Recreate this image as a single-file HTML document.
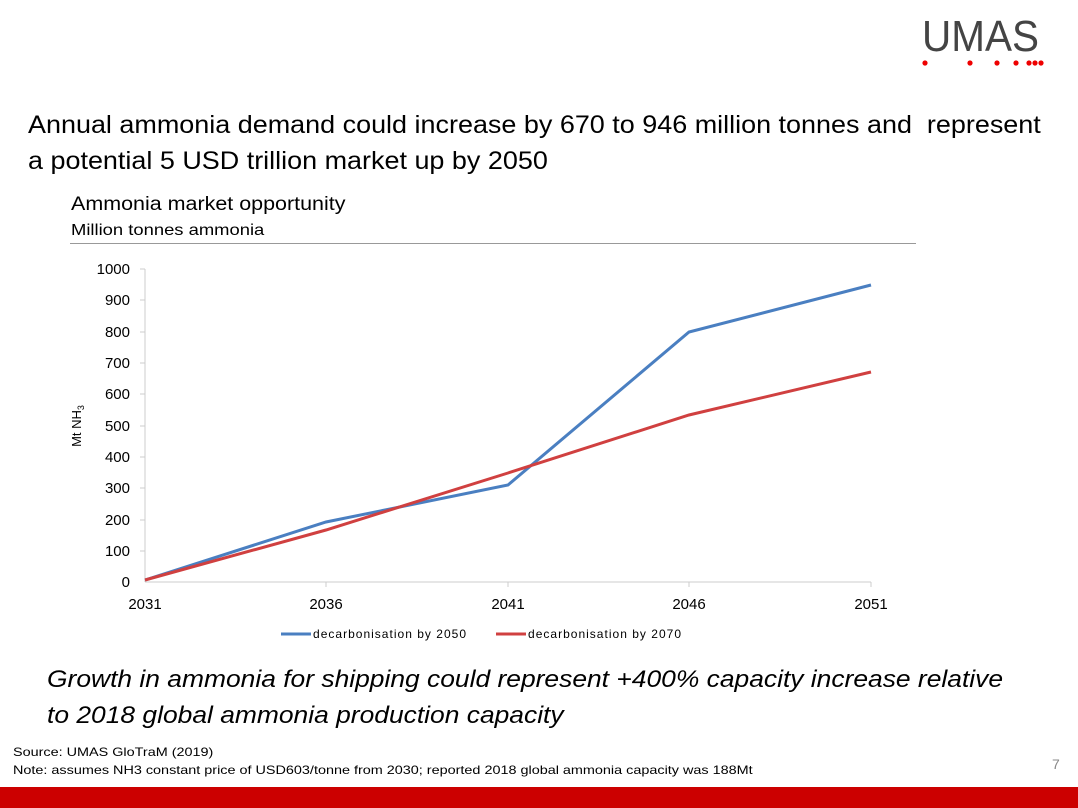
<!DOCTYPE html>
<html><head><style>
body{margin:0;width:1078px;height:808px;background:#fff;position:relative;overflow:hidden;font-family:"Liberation Sans",sans-serif;color:#000}
.a{position:absolute;white-space:nowrap;transform-origin:left top}
</style></head><body>
<div class="a" style="left:922px;top:12px;font-size:44px;color:#444;transform:scaleX(0.92)">UMAS</div>
<svg class="a" style="left:918px;top:58px" width="130" height="10">
<circle cx="7" cy="5" r="2.6" fill="#e00"/><circle cx="52" cy="5" r="2.6" fill="#e00"/><circle cx="79" cy="5" r="2.6" fill="#e00"/><circle cx="98" cy="5" r="2.6" fill="#e00"/><circle cx="111" cy="5" r="2.6" fill="#e00"/><circle cx="117" cy="5" r="2.6" fill="#e00"/><circle cx="123" cy="5" r="2.6" fill="#e00"/>
</svg>
<div class="a" style="left:28px;top:107px;font-size:25px;line-height:36px;transform:scaleX(1.078)">Annual ammonia demand could increase by 670 to 946 million tonnes and &nbsp;represent<br>a potential 5 USD trillion market up by 2050</div>
<div class="a" style="left:71px;top:194px;font-size:19px;transform:scaleX(1.13)">Ammonia market opportunity</div>
<div class="a" style="left:71px;top:222px;font-size:16px;transform:scaleX(1.15)">Million tonnes ammonia</div>
<div class="a" style="left:70px;top:243px;width:846px;height:1px;background:#999"></div>
<svg class="a" style="left:0;top:0" width="1078" height="808" font-family="Liberation Sans, sans-serif" font-size="15">
<g stroke="#ccc" stroke-width="1">
<line x1="145" y1="269" x2="145" y2="582"/><line x1="145" y1="582" x2="871" y2="582"/>
<line x1="140" y1="269" x2="145" y2="269"/><line x1="140" y1="300" x2="145" y2="300"/><line x1="140" y1="332" x2="145" y2="332"/><line x1="140" y1="363" x2="145" y2="363"/><line x1="140" y1="394" x2="145" y2="394"/><line x1="140" y1="426" x2="145" y2="426"/><line x1="140" y1="457" x2="145" y2="457"/><line x1="140" y1="488" x2="145" y2="488"/><line x1="140" y1="520" x2="145" y2="520"/><line x1="140" y1="551" x2="145" y2="551"/>
<line x1="326" y1="582" x2="326" y2="587"/><line x1="508" y1="582" x2="508" y2="587"/><line x1="689" y1="582" x2="689" y2="587"/><line x1="871" y1="582" x2="871" y2="587"/>
</g>
<g text-anchor="end" fill="#000">
<text x="130" y="274">1000</text><text x="130" y="305">900</text><text x="130" y="337">800</text><text x="130" y="368">700</text><text x="130" y="399">600</text><text x="130" y="431">500</text><text x="130" y="462">400</text><text x="130" y="493">300</text><text x="130" y="525">200</text><text x="130" y="556">100</text><text x="130" y="587">0</text>
</g>
<g text-anchor="middle"><text x="145" y="609">2031</text><text x="326" y="609">2036</text><text x="508" y="609">2041</text><text x="689" y="609">2046</text><text x="871" y="609">2051</text></g>
<text transform="translate(81,426) rotate(-90)" text-anchor="middle" font-size="13">Mt NH<tspan font-size="9" dy="3">3</tspan></text>
<polyline fill="none" stroke="#4a7fc1" stroke-width="3" points="145,580 326,522 508,485 689,332 871,285"/>
<polyline fill="none" stroke="#d04040" stroke-width="3" points="145,580 326,530 508,473 689,415 871,372"/>
<line x1="281" y1="634" x2="311" y2="634" stroke="#4a7fc1" stroke-width="3"/>
<text x="313" y="638" font-size="12" textLength="153">decarbonisation by 2050</text>
<line x1="496" y1="634" x2="526" y2="634" stroke="#d04040" stroke-width="3"/>
<text x="528" y="638" font-size="12" textLength="153">decarbonisation by 2070</text>
</svg>
<div class="a" style="left:47px;top:662px;font-size:24px;font-style:italic;line-height:36px;transform:scaleX(1.10)">Growth in ammonia for shipping could represent +400% capacity increase relative<br>to 2018 global ammonia production capacity</div>
<div class="a" style="left:13px;top:743px;font-size:12px;line-height:18px;transform:scaleX(1.2)">Source: UMAS GloTraM (2019)<br>Note: assumes NH3 constant price of USD603/tonne from 2030; reported 2018 global ammonia capacity was 188Mt</div>
<div class="a" style="left:1052px;top:756px;font-size:14px;color:#888">7</div>
<div class="a" style="left:0;top:787px;width:1078px;height:21px;background:#cc0000"></div>
</body></html>
